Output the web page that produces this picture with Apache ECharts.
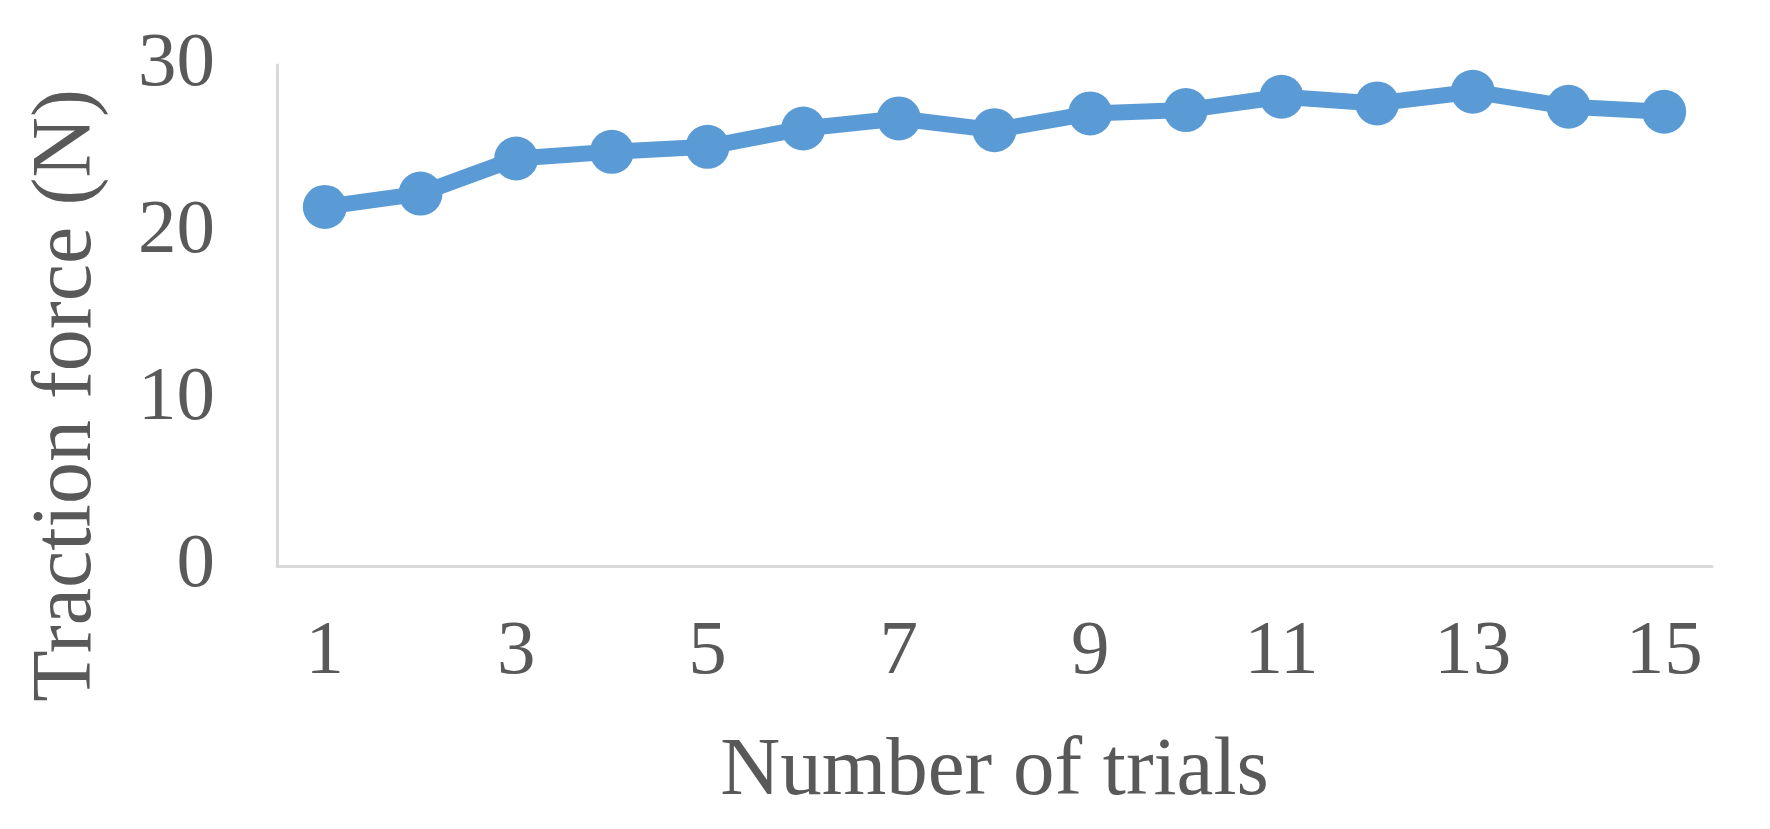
<!DOCTYPE html>
<html>
<head>
<meta charset="utf-8">
<title>Traction force</title>
<script src="https://cdn.jsdelivr.net/npm/echarts@6/dist/echarts.min.js"></script>
<style>
html, body { margin: 0; padding: 0; background: #fff; }
#main { width: 1770px; height: 829px; }
</style>
</head>
<body>
<div id="main"></div>
<script>
// 数据
var trials = ['1', '2', '3', '4', '5', '6', '7', '8', '9', '10', '11', '12', '13', '14', '15'];
var force = [21.5, 22.3, 24.4, 24.8, 25.1, 26.2, 26.8, 26.1, 27.1, 27.3, 28.1, 27.7, 28.4, 27.5, 27.2];
var yTicks = [0, 10, 20, 30];

var textColor = '#595959';
var serif = '"Liberation Serif", "Times New Roman", serif';

var myChart = echarts.init(document.getElementById('main'));
var option = {
	animation: false,
	grid: {
		left: 277,
		right: 58,
		top: 65,
		bottom: 263
	},
	xAxis: {
		type: 'category',
		data: trials,
		boundaryGap: true,
		name: 'Number of trials',
		nameLocation: 'middle',
		nameGap: 165,
		nameTextStyle: { fontFamily: serif, fontSize: 83, color: textColor },
		axisLine: { lineStyle: { color: '#d9d9d9', width: 3 } },
		axisTick: { show: false },
		axisLabel: {
			interval: 1,		//隔一个显示
			margin: 48,
			fontFamily: serif,
			fontSize: 77,
			color: textColor
		},
		splitLine: { show: false }
	},
	yAxis: {
		type: 'value',
		min: yTicks[0],
		max: yTicks[yTicks.length - 1],
		interval: 10,
		axisLine: { show: true, lineStyle: { color: '#d9d9d9', width: 3 } },
		axisTick: { show: false },
		axisLabel: {
			margin: 62,
			fontFamily: serif,
			fontSize: 77,
			color: textColor
		},
		splitLine: { show: false }
	},
	//纵轴标题
	graphic: [{
		type: 'text',
		left: 68 - 42,
		top: 397 - 308,
		rotation: Math.PI / 2,
		style: {
			text: 'Traction force (N)',
			fontFamily: serif,
			fontSize: 84,
			fill: textColor
		}
	}],
	series: [{
		type: 'line',
		data: force,
		symbol: 'circle',
		symbolSize: 44,
		lineStyle: { color: '#5b9bd5', width: 16 },
		itemStyle: { color: '#5b9bd5' }
	}]
};
myChart.setOption(option);
</script>
</body>
</html>
